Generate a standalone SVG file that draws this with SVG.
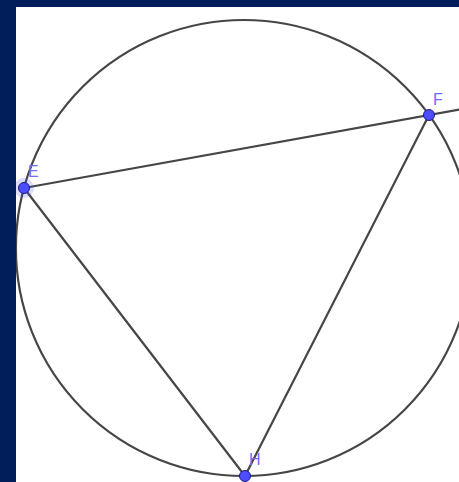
<svg xmlns="http://www.w3.org/2000/svg" width="459" height="482" viewBox="0 0 459 482">
<style>
.ln{stroke:#464646;stroke-width:2.2;fill:none;stroke-linecap:round}
.pt{fill:#4d4dff;stroke:#1a1a80;stroke-width:1}
.lb{font-family:"Liberation Sans",Arial,sans-serif;font-size:16px;fill:#6f6fff}
</style>
<rect x="0" y="0" width="459" height="482" fill="#ffffff"/>
<g id="connectors">
<circle class="ln" cx="243.9" cy="248" r="228"/>
<line class="ln" x1="24" y1="188" x2="470" y2="107.6"/>
<line class="ln" x1="24" y1="188" x2="245" y2="476"/>
<line class="ln" x1="429" y1="115" x2="245" y2="476"/>
</g>
<g id="E">
<circle cx="24" cy="188" r="10" fill="#4d4dff" fill-opacity="0.2"/>
<circle class="pt" cx="24" cy="188" r="5.5"/>
<text class="lb" x="28" y="177">E</text>
</g>
<g id="F">
<circle class="pt" cx="429" cy="115" r="5.5"/>
<text class="lb" x="433" y="105">F</text>
</g>
<g id="H">
<circle class="pt" cx="245" cy="476" r="5.5"/>
<text class="lb" x="249" y="465">H</text>
</g>
<rect x="0" y="0" width="459" height="7" fill="#011e5b"/>
<rect x="0" y="0" width="16" height="482" fill="#011e5b"/>
</svg>
